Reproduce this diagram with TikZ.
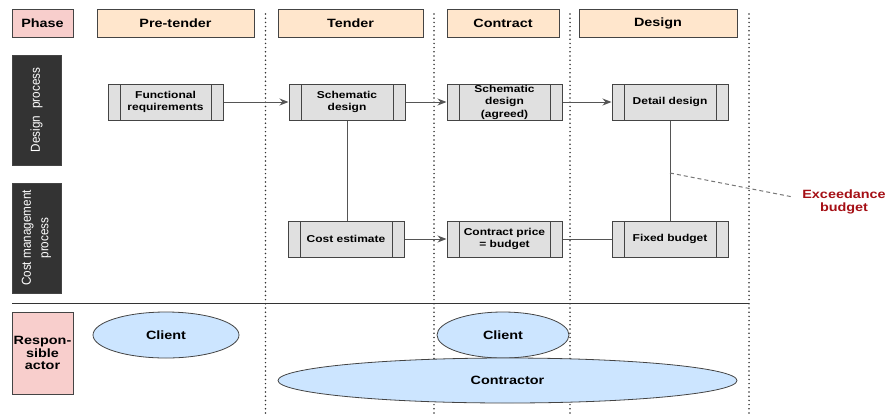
\documentclass[tikz,border=0pt]{standalone}
\usepackage{fontspec}
\setmainfont[FakeStretch=1.2]{Liberation Sans}
\newfontfamily\sidefont[FakeStretch=0.9]{Liberation Sans}
\usetikzlibrary{arrows.meta,shapes.geometric}

\definecolor{phasepink}{HTML}{F8CECC}
\definecolor{phasepeach}{HTML}{FFE6CC}
\definecolor{procgrey}{HTML}{E0E0E0}
\definecolor{actorblue}{HTML}{CCE5FF}
\definecolor{darkpanel}{HTML}{333333}
\definecolor{edgegrey}{HTML}{444444}
\definecolor{linkgrey}{HTML}{555555}
\definecolor{warnred}{HTML}{A50F15}

\tikzset{
  phasebox/.style={draw=edgegrey, line width=1pt, fill=phasepeach, minimum height=28pt,
    font=\fontsize{12}{14}\selectfont\bfseries, inner sep=0pt},
  labelbox/.style={draw=edgegrey, line width=1pt, fill=phasepink, inner sep=0pt,
    font=\fontsize{12}{12.5}\selectfont\bfseries, align=center},
  sidebox/.style={draw=edgegrey, line width=0.8pt, fill=darkpanel, text=white, inner sep=0pt,
    minimum width=49pt, minimum height=110pt},
  sidetext/.style={rotate=90, text=white, align=center,
    font=\sidefont\fontsize{13}{17.5}\selectfont},
  procbox/.style={draw=edgegrey, line width=1pt, fill=procgrey, minimum width=116pt,
    minimum height=36pt, inner sep=0pt, align=center,
    font=\fontsize{10}{12.5}\selectfont\bfseries,
    path picture={
      \draw[edgegrey, line width=1pt]
        ([xshift=12pt]path picture bounding box.north west) --
        ([xshift=12pt]path picture bounding box.south west);
      \draw[edgegrey, line width=1pt]
        ([xshift=-12pt]path picture bounding box.north east) --
        ([xshift=-12pt]path picture bounding box.south east);
    }},
  actor/.style={ellipse, draw=edgegrey, line width=0.8pt, fill=actorblue, inner sep=0pt,
    font=\fontsize{12}{14}\selectfont\bfseries},
  flow/.style={draw=linkgrey, line width=1pt, -{Stealth[length=9pt,width=7pt]}},
  link/.style={draw=linkgrey, line width=1pt},
  boundary/.style={draw=black!80, line width=1.7pt, line cap=round,
    dash pattern=on 0pt off 4.2pt},
}

\begin{document}
\begin{tikzpicture}[x=1pt, y=-1pt]
\useasboundingbox (0,0) rectangle (888,413);

% phase boundaries
\coordinate (b1t) at (265.5,14);  \coordinate (b1b) at (265.5,413);
\coordinate (b2t) at (434,14);    \coordinate (b2b) at (434,413);
\coordinate (b3t) at (570,14);    \coordinate (b3b) at (570,413);
\coordinate (b4t) at (749,14);    \coordinate (b4b) at (749,413);
\draw[boundary] (b1t) -- (b1b);
\draw[boundary] (b2t) -- (b2b);
\draw[boundary] (b3t) -- (b3b);
\draw[boundary] (b4t) -- (b4b);

% separator between processes and actors
\coordinate (sepL) at (12,303);
\coordinate (sepR) at (749,303);
\draw[black!80, line width=1pt] (sepL) -- (sepR);

% header row
\node[labelbox, minimum width=61pt, minimum height=28pt] (phase) at (42.5,23) {Phase};
\node[phasebox, minimum width=157pt] (pretender) at (175.5,23) {Pre-tender};
\node[phasebox, minimum width=145pt] (tender) at (350.5,23) {Tender};
\node[phasebox, minimum width=112pt] (contract) at (503,23) {Contract};
\node[phasebox, minimum width=158pt] (design) at (658,23) {Design};

% row labels
\node[sidebox] (dproc) at (36.5,110) {};
\node[sidetext] (dproclbl) at (dproc.center) {Design\hspace{4pt} process};
\node[sidebox] (cproc) at (36.5,238) {};
\node[sidetext] (cproclbl) at (cproc.center) {Cost management\\process};
\node[labelbox, minimum width=61pt, minimum height=82pt] (actorlbl) at (42.5,353)
  {Respon-\\sible\\actor};

% design process
\node[procbox, minimum width=115pt] (funreq) at (165.5,102) {Functional\\requirements};
\node[procbox] (schem) at (347,102) {Schematic\\design};
\node[procbox, minimum width=115pt] (schemag) at (504.5,102) {Schematic\\design\\(agreed)};
\node[procbox] (detail) at (670,102) {Detail design};

% cost management process
\node[procbox] (costest) at (346,239) {Cost estimate};
\node[procbox, minimum width=115pt] (cprice) at (504.5,239) {Contract price\\= budget};
\node[procbox] (fixed) at (670,239) {Fixed budget};

\draw[flow] (funreq) -- (schem);
\draw[flow] (schem) -- (schemag);
\draw[flow] (schemag) -- (detail);
\draw[flow] (costest) -- (cprice);
\draw[link] (cprice) -- (fixed);
\draw[link] (schem.south) -- (schem.south |- costest.north);
\draw[link] (detail) -- (fixed);

% budget exceedance note
\coordinate (exc) at (670,173);
\coordinate (excend) at (793,197);
\node[text=warnred, align=center, font=\fontsize{12}{13}\selectfont\bfseries]
  (exclbl) at (844,202) {Exceedance\\budget};
\draw[linkgrey!80, line width=1pt, dash pattern=on 4pt off 3pt] (exc) -- (excend);

% responsible actors
\node[actor, minimum width=146pt, minimum height=46pt] (client1) at (166,335) {Client};
\node[actor, minimum width=132pt, minimum height=46pt] (client2) at (503,335) {Client};
\node[actor, minimum width=459pt, minimum height=45pt] (contractor) at (507.5,380.5) {Contractor};
\end{tikzpicture}
\end{document}
